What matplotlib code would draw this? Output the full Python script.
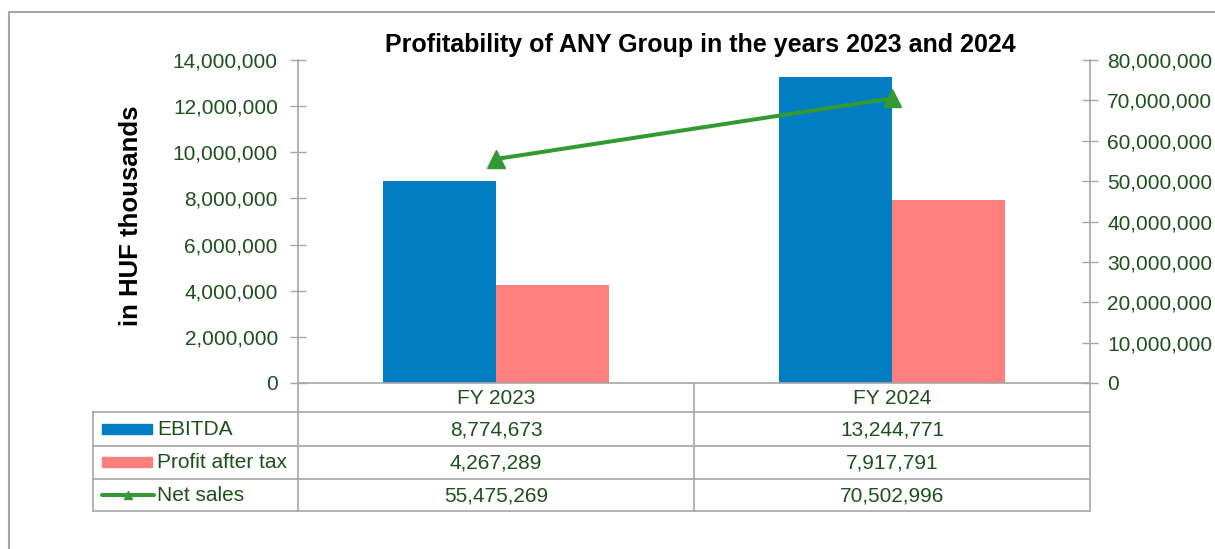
import matplotlib.pyplot as plt
from matplotlib.patches import Rectangle
from matplotlib.ticker import FuncFormatter

plt.rcParams['font.family'] = ['Liberation Sans', 'DejaVu Sans']

# data
categories = ['FY 2023', 'FY 2024']
ebitda = [8774673, 13244771]
profit = [4267289, 7917791]
net_sales = [55475269, 70502996]
series_names = ['EBITDA', 'Profit after tax', 'Net sales']

blue = '#007DC3'
pink = '#FF7F7F'
green = '#339933'
txt = '#1D501D'
grey = '#A6A6A6'

W, H = 1215, 549
fig = plt.figure(figsize=(W / 100, H / 100), dpi=100)

# plot area in pixels
L, R, T, B = 298, 1090, 60, 383
ax = fig.add_axes([L / W, 1 - B / H, (R - L) / W, (B - T) / H])

x = list(range(len(categories)))
bw = 0.2857
ax.bar([i - bw / 2 for i in x], ebitda, width=bw, color=blue, zorder=2)
ax.bar([i + bw / 2 for i in x], profit, width=bw, color=pink, zorder=2)
ax.set_xlim(-0.5, len(categories) - 0.5)
ax.set_ylim(0, 14000000)
ax.set_yticks(range(0, 14000001, 2000000))
ax.set_xticks([])

fmt = FuncFormatter(lambda v, p: f'{v:,.0f}')
ax.yaxis.set_major_formatter(fmt)
ax.tick_params(axis='y', direction='inout', length=11, width=1, color=grey,
               labelsize=15, labelcolor=txt, pad=9)
for s in ['top', 'right']:
    ax.spines[s].set_visible(False)
for s in ['left', 'bottom']:
    ax.spines[s].set_color(grey)
    ax.spines[s].set_linewidth(1.2)

ax2 = ax.twinx()
ax2.plot(x, net_sales, color=green, lw=2.9, marker='^', ms=13, zorder=3)
ax2.set_ylim(0, 80000000)
ax2.set_yticks(range(0, 80000001, 10000000))
ax2.yaxis.set_major_formatter(fmt)
ax2.tick_params(axis='y', direction='inout', length=11, width=1, color=grey,
                labelsize=15, labelcolor=txt, pad=7)
for s in ['top', 'left', 'bottom']:
    ax2.spines[s].set_visible(False)
ax2.spines['right'].set_color(grey)
ax2.spines['right'].set_linewidth(1.2)

# title and axis label
fig.text(700 / W, 1 - 45 / H, 'Profitability of ANY Group in the years 2023 and 2024',
         ha='center', va='center', fontsize=18, fontweight='bold', color='black')
fig.text(131 / W, 1 - 216 / H, 'in HUF thousands', rotation=90, ha='center',
         va='center', fontsize=18.5, fontweight='bold', color='black')

# data table drawn in pixel space
tab = fig.add_axes([0, 0, 1, 1], zorder=-1)
tab.set_xlim(0, W)
tab.set_ylim(H, 0)
tab.axis('off')

TL = 93
rows = [383, 412, 445.5, 478.5, 511]
cols = [L + (R - L) * i / len(categories) for i in range(len(categories) + 1)]

for y in rows[1:]:
    tab.plot([TL, R], [y, y], color=grey, lw=1.2)
tab.plot([TL, TL], [rows[1], rows[-1]], color=grey, lw=1.2)
for c in cols:
    tab.plot([c, c], [rows[0], rows[-1]], color=grey, lw=1.2)

for i, cat in enumerate(categories):
    cx = (cols[i] + cols[i + 1]) / 2
    tab.text(cx, (rows[0] + rows[1]) / 2 + 1, cat, ha='center', va='center',
             fontsize=15, color=txt)

table_rows = [ebitda, profit, net_sales]
for r, vals in enumerate(table_rows):
    cy = (rows[r + 1] + rows[r + 2]) / 2
    for i, v in enumerate(vals):
        cx = (cols[i] + cols[i + 1]) / 2
        tab.text(cx, cy + 1, f'{v:,}', ha='center', va='center', fontsize=15, color=txt)
    tab.text(157, cy + 1, series_names[r], ha='left', va='center', fontsize=15, color=txt)

# legend keys
for r, col in enumerate([blue, pink]):
    cy = (rows[r + 1] + rows[r + 2]) / 2
    tab.add_patch(Rectangle((102, cy - 5), 50, 10, color=col))
cy = (rows[3] + rows[4]) / 2
tab.plot([102, 154], [cy, cy], color=green, lw=2.9, solid_capstyle='round')
tab.plot([128], [cy], marker='^', ms=6, color=green)

# outer chart border
fig.add_artist(Rectangle((9 / W, -0.1), 1.1, 1 - 12 / H + 0.1, transform=fig.transFigure,
                         fill=False, edgecolor=grey, lw=1.5))

fig.savefig('out.png', dpi=100, facecolor='white')
